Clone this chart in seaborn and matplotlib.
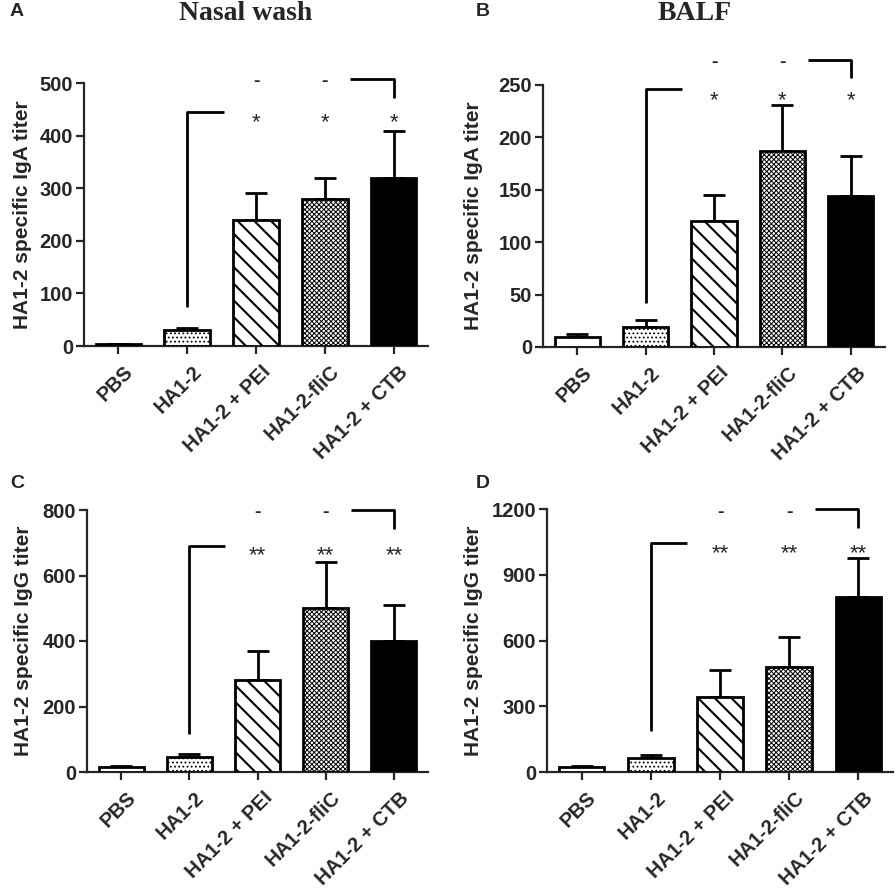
import numpy as np
import pandas as pd
import matplotlib
matplotlib.use("Agg")
import matplotlib.pyplot as plt
import matplotlib.transforms as mtransforms
import seaborn as sns

groups = ["PBS", "HA1-2", "HA1-2 + PEI", "HA1-2-fliC", "HA1-2 + CTB"]

nasal_iga = [3, 30, 240, 280, 320]
nasal_iga_err = [1, 5, 50, 40, 88]
balf_iga = [10, 19, 120, 187, 144]
balf_iga_err = [2, 7, 25, 44, 38]
nasal_igg = [15, 45, 280, 500, 400]
nasal_igg_err = [3, 10, 90, 140, 110]
balf_igg = [22, 65, 340, 480, 800]
balf_igg_err = [6, 13, 125, 135, 175]

sns.set_style("ticks")
plt.rcParams["font.family"] = ["Liberation Sans", "DejaVu Sans"]
plt.rcParams["font.weight"] = "bold"
plt.rcParams["hatch.linewidth"] = 1.3

fig = plt.figure(figsize=(8.96, 8.88), dpi=100)

# letter, title, values, errors, ylabel, ticks, star text, axes rect (px), ylabel x (axes frac),
# annotation levels as fraction of ymax: dash, bracket top, bracket bottom, star, left bracket top, left bracket bottom
panels = [
    ("A", "Nasal wash", nasal_iga, nasal_iga_err, "HA1-2 specific IgA titer",
     np.arange(0, 501, 100), "*", (84, 83, 428, 346), -0.151, (1.01, 1.016, 0.944, 0.874, 0.888, 0.15)),
    ("B", "BALF", balf_iga, balf_iga_err, "HA1-2 specific IgA titer",
     np.arange(0, 251, 50), "*", (543, 85, 885, 347), -0.175, (1.092, 1.096, 1.028, 0.968, 0.984, 0.168)),
    ("C", None, nasal_igg, nasal_igg_err, "HA1-2 specific IgG titer",
     np.arange(0, 801, 200), "**", (87, 510, 428, 772), -0.158, (0.993, 1.0, 0.928, 0.851, 0.8625, 0.145)),
    ("D", None, balf_igg, balf_igg_err, "HA1-2 specific IgG titer",
     np.arange(0, 1201, 300), "**", (547, 509, 893, 772), -0.185, (0.992, 1.0, 0.928, 0.858, 0.871, 0.156)),
]

W, H = 896, 888
hatches = [None, "....", "\\\\", "xxxxxxx", None]
hatch_lw = [None, 0.8, 1.5, 0.7, None]
faces = ["white", "white", "white", "white", "black"]
shift = mtransforms.ScaledTranslation(5 / 100, -3 / 100, fig.dpi_scale_trans)

for letter, title, vals, errs, ylab, ticks, star, rect, ylx, lv in panels:
    x0, y0, x1, y1 = rect
    ax = fig.add_axes([x0 / W, 1 - y1 / H, (x1 - x0) / W, (y1 - y0) / H])
    df = pd.DataFrame({"group": groups, "value": vals})
    sns.barplot(data=df, x="group", y="value", ax=ax, color="white", edgecolor="black",
                linewidth=2, width=0.66, saturation=1, errorbar=None, zorder=3)
    for p, h, hl, fc in zip(ax.patches, hatches, hatch_lw, faces):
        p.set_facecolor(fc)
        if h:
            p.set_hatch(h)
            if hasattr(p, "set_hatch_linewidth"):
                p.set_hatch_linewidth(hl)
    xs = np.arange(len(groups))
    ax.errorbar(xs, vals, yerr=[np.zeros(len(errs)), errs], fmt="none", ecolor="black",
                elinewidth=2, capsize=8, capthick=2, zorder=2)
    ymax = ticks[-1]
    ax.set_ylim(0, ymax)
    ax.set_xlim(-0.5, 4.5)
    ax.set_yticks(ticks)
    ax.set_xlabel("")
    ax.set_ylabel(ylab, fontsize=15, fontweight="bold")
    ax.yaxis.set_label_coords(ylx, 0.5)
    sns.despine(ax=ax)
    for s in ["left", "bottom"]:
        ax.spines[s].set_linewidth(1.6)
    ax.tick_params(axis="both", direction="out", length=6, width=1.6, labelsize=14.5)
    ax.tick_params(axis="y", pad=2)
    ax.set_xticks(xs)
    ax.set_xticklabels(groups, rotation=45, ha="right", rotation_mode="anchor", fontweight="bold")
    for t in ax.get_xticklabels():
        t.set_transform(t.get_transform() + shift)
    for t in ax.get_yticklabels():
        t.set_fontweight("bold")

    dash, btop, bbot, sy, ltop, lbot = [v * ymax for v in lv]
    kw = dict(color="black", lw=2, clip_on=False, solid_capstyle="butt")
    ax.plot([1, 1, 1.53], [lbot, ltop, ltop], **kw)
    ax.plot([3.37, 4, 4], [btop, btop, bbot], **kw)
    for xi in [2, 3]:
        ax.annotate("-", (xi, dash), xytext=(0, -0.29 * 14), textcoords="offset points",
                    ha="center", va="baseline", fontsize=14, fontweight="bold", annotation_clip=False)
    for xi in [2, 3, 4]:
        ax.annotate(star, (xi, sy), xytext=(0, -0.56 * 16), textcoords="offset points",
                    ha="center", va="baseline", fontsize=16, fontweight="normal", annotation_clip=False)

    lx = 10 if letter in "AC" else 476
    ly = 12 if letter in "AB" else 483
    fig.text(lx / W, 1 - ly / H, letter, fontsize=14, fontweight="bold", ha="left", va="center")
    if title:
        cx = (x0 + x1) / 2 + (-10 if letter == "A" else -19)
        fig.text(cx / W, 1 - 14 / H, title, fontsize=20, fontweight="bold",
                 family=["Liberation Serif", "DejaVu Serif"], ha="center", va="center")

fig.savefig("out.png", dpi=100)
